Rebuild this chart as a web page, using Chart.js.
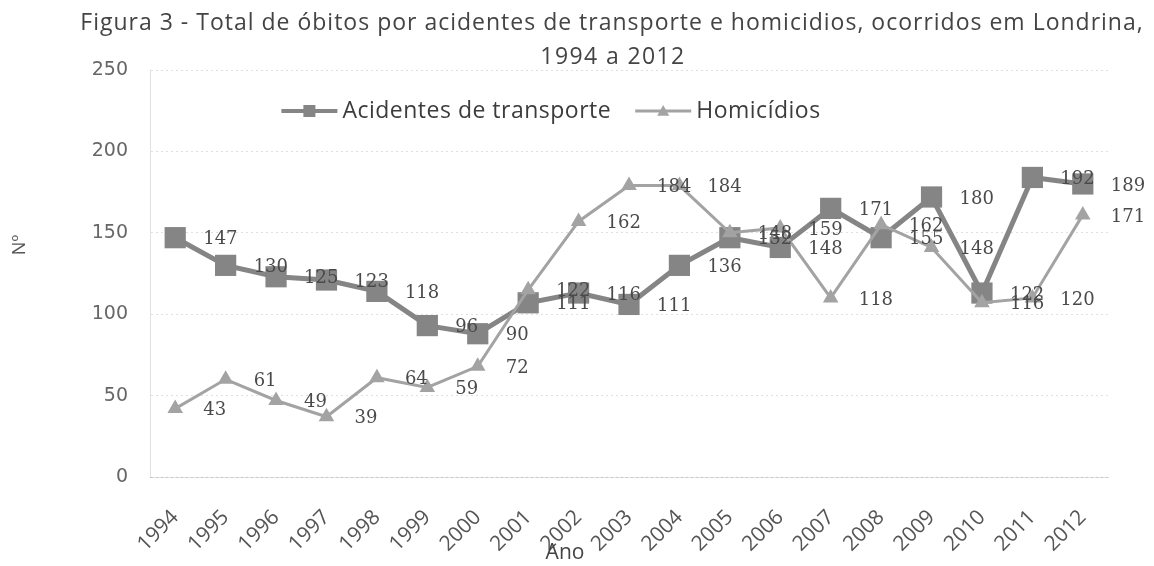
<!DOCTYPE html>
<html lang="pt">
<head>
<meta charset="utf-8">
<title>Óbitos Londrina 1994-2012</title>
<script src="https://cdn.jsdelivr.net/npm/chart.js@4.4.1/dist/chart.umd.min.js"></script>
<style>
  html, body { margin: 0; padding: 0; background: #fff; }
  #wrap { width: 1154px; height: 566px; }
</style>
</head>
<body>
<div id="wrap"><canvas id="grafico" width="1154" height="566"></canvas></div>
<script>
const anos = ['1994', '1995', '1996', '1997', '1998', '1999', '2000', '2001', '2002', '2003',
              '2004', '2005', '2006', '2007', '2008', '2009', '2010', '2011', '2012'];

// valores lidos pela posição dos marcadores
const acidentes = [147, 130, 123, 121, 114, 93, 88, 107, 113, 106, 130, 147, 141, 165, 147, 172, 113, 184, 180];
const homicidios = [42, 60, 47, 37, 61, 55, 68, 115, 157, 179, 179, 150, 153, 110, 155, 141, 107, 110, 161];

// rótulos impressos ao lado de cada ponto
const rotulosAcidentes = ['147', '130', '125', '123', '118', '96', '90', '111', '116', '111', '136', '152', '148', '171', '155', '180', '122', '192', '189'];
const rotulosHomicidios = ['43', '61', '49', '39', '64', '59', '72', '122', '162', '184', '184', '148', '159', '118', '162', '148', '116', '120', '171'];

const ticksY = [0, 50, 100, 150, 200, 250];

const corAcidentes = '#858585';
const corHomicidios = '#a3a3a3';

const titulo = [
    'Figura 3 - Total de óbitos por acidentes de transporte e homicidios, ocorridos em Londrina,',
    '1994 a 2012'
];

const tituloPlugin = {
    id: 'tituloPlugin',
    afterDraw(chart) {
        const ctx = chart.ctx;
        ctx.save();
        ctx.fillStyle = '#444';
        ctx.font = '23px "Open Sans"';
        ctx.letterSpacing = '1px';
        ctx.textAlign = 'center';
        ctx.textBaseline = 'middle';
        ctx.fillText(titulo[0], 612, 23);
        ctx.letterSpacing = '1.4px';
        ctx.fillText(titulo[1], 613, 57);
        // títulos dos eixos
        ctx.letterSpacing = '0px';
        ctx.font = '21px "Open Sans"';
        ctx.fillText('Ano', 565, 553);
        ctx.font = '18px "Open Sans"';
        ctx.fillStyle = '#555';
        ctx.translate(20, 245);
        ctx.rotate(-Math.PI / 2);
        ctx.fillText('Nº', 0, 0);
        ctx.restore();
    }
};

function marcador(ctx, estilo, x, y, r, cor) {
    ctx.fillStyle = cor;
    ctx.beginPath();
    if (estilo === 'rect') {
        ctx.rect(x - r, y - r, 2 * r, 2 * r);
    } else {
        ctx.moveTo(x, y - r);
        ctx.lineTo(x + r, y + r * 0.8);
        ctx.lineTo(x - r, y + r * 0.8);
        ctx.closePath();
    }
    ctx.fill();
}

const legendaPlugin = {
    id: 'legendaPlugin',
    afterDraw(chart) {
        const ctx = chart.ctx;
        const itens = chart.data.datasets.map(ds => ({ texto: ds.label, cor: ds.borderColor, estilo: ds.pointStyle }));
        ctx.save();
        ctx.font = '23px "Open Sans"';
        ctx.letterSpacing = '0.5px';
        ctx.textBaseline = 'middle';
        const larguraLinha = 56;
        const gap = 5;
        const entre = 24;
        let total = 0;
        itens.forEach((it, i) => {
            it.w = ctx.measureText(it.texto).width;
            total += larguraLinha + gap + it.w + (i ? entre : 0);
        });
        let x = 551 - total / 2;
        const y = 111;
        itens.forEach(it => {
            ctx.strokeStyle = it.cor;
            ctx.lineWidth = it.estilo === 'rect' ? 4 : 3;
            ctx.beginPath();
            ctx.moveTo(x, y);
            ctx.lineTo(x + larguraLinha, y);
            ctx.stroke();
            marcador(ctx, it.estilo, x + larguraLinha / 2, y, 6, it.cor);
            ctx.fillStyle = '#3c3c3c';
            ctx.fillText(it.texto, x + larguraLinha + gap, y);
            x += larguraLinha + gap + it.w + entre;
        });
        ctx.restore();
    }
};

const rotulosPlugin = {
    id: 'rotulosPlugin',
    afterDatasetsDraw(chart) {
        const ctx = chart.ctx;
        const rotulos = [rotulosAcidentes, rotulosHomicidios];
        ctx.save();
        ctx.font = '18px "DejaVu Serif"';
        ctx.fillStyle = '#4a4a4a';
        ctx.textAlign = 'left';
        ctx.textBaseline = 'middle';
        chart.data.datasets.forEach((ds, i) => {
            const meta = chart.getDatasetMeta(i);
            meta.data.forEach((pt, j) => {
                ctx.fillText(rotulos[i][j], pt.x + 28, pt.y + 2);
            });
        });
        ctx.restore();
    }
};

new Chart(document.getElementById('grafico').getContext('2d'), {
    type: 'line',
    data: {
        labels: anos,
        datasets: [{
            label: 'Acidentes de transporte',
            data: acidentes,
            borderColor: corAcidentes,
            backgroundColor: corAcidentes,
            borderWidth: 5,
            pointStyle: 'rect',
            pointRadius: 15,
            pointBorderWidth: 0,
            tension: 0,
            clip: false,
            order: 1
        }, {
            label: 'Homicídios',
            data: homicidios,
            borderColor: corHomicidios,
            backgroundColor: corHomicidios,
            borderWidth: 3,
            pointStyle: 'triangle',
            pointRadius: 9,
            pointBorderWidth: 0,
            tension: 0,
            clip: false,
            order: 0
        }]
    },
    options: {
        responsive: false,
        animation: false,
        layout: { padding: { top: 70, right: 46, left: 0, bottom: 0 } },
        plugins: {
            legend: { display: false },
            title: { display: false },
            tooltip: { enabled: false }
        },
        scales: {
            x: {
                offset: true,
                grid: { display: false, drawTicks: false },
                border: { color: 'rgba(0,0,0,0.12)', dash: [2, 3] },
                ticks: {
                    autoSkip: false,
                    minRotation: 45,
                    maxRotation: 45,
                    padding: 28,
                    color: '#555',
                    font: { family: 'Open Sans', size: 21 }
                },
                afterFit(scale) { scale.height = 89; }
            },
            y: {
                min: 0,
                max: 250,
                grid: { color: 'rgba(0,0,0,0.12)', drawTicks: false },
                border: { color: 'rgba(0,0,0,0.12)', dash: [2, 3] },
                afterBuildTicks(scale) { scale.ticks = ticksY.map(v => ({ value: v })); },
                ticks: {
                    padding: 22,
                    color: '#666',
                    font: { family: 'DejaVu Sans', size: 19 }
                },
                afterFit(scale) { scale.width = 150; }
            }
        }
    },
    plugins: [rotulosPlugin, legendaPlugin, tituloPlugin]
});
</script>
</body>
</html>
